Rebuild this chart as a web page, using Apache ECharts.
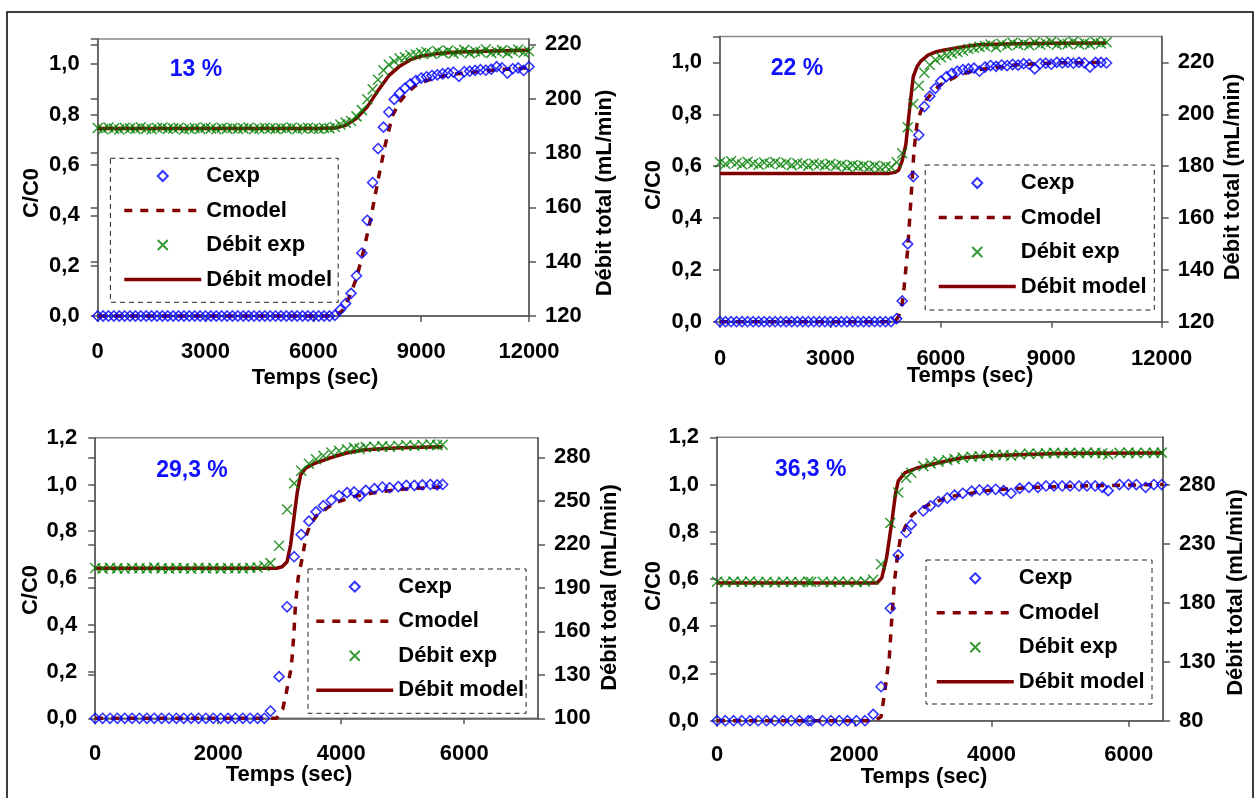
<!DOCTYPE html>
<html><head><meta charset="utf-8">
<script src="https://cdn.jsdelivr.net/npm/echarts@6/dist/echarts.min.js"></script>
<style>html,body{margin:0;padding:0;background:#fff}#c{width:1257px;height:798px}</style>
</head><body><div id="c"></div>
<script>
// ---------------- DATA ----------------
const seriesNames = ['Cexp', 'Cmodel', 'Débit exp', 'Débit model'];
const panelLabels = ['13 %', '22 %', '29,3 %', '36,3 %'];
const xTitle = 'Temps (sec)';
const yTitle = 'C/C0';
const rTitle = 'Débit total (mL/min)';

// Panel 1 (13 %)
const p1Time = [0,150,300,450,600,750,900,1050,1200,1350,1500,
  1650,1800,1950,2100,2250,2400,2550,2700,2850,3000,3150,
  3300,3450,3600,3750,3900,4050,4200,4350,4500,4650,4800,
  4950,5100,5250,5400,5550,5700,5850,6000,6150,6300,6450,
  6600,6750,6900,7050,7200,7350,7500,7650,7800,7950,8100,
  8250,8400,8550,8700,8850,9000,9150,9300,9450,9600,9750,
  9900,10050,10200,10350,10500,10650,10800,10950,11100,11250,11400,
  11550,11700,11850,12000];
const p1Cexp = [0,0,0,0,0,0,0,0,0,0,0,
  0,0,0,0,0,0,0,0,0,0,0,
  0,0,0,0,0,0,0,0,0,0,0,
  0,0,0,0,0,0,0,0,0,0,0,
  0.003,0.025,0.05,0.09,0.16,0.25,0.38,0.53,0.665,0.75,0.81,
  0.86,0.885,0.905,0.922,0.935,0.945,0.95,0.955,0.958,0.962,0.965,
  0.968,0.952,0.97,0.972,0.975,0.978,0.976,0.98,0.99,0.985,0.965,
  0.982,0.985,0.975,0.99];
const p1DebitExp = [189.2,188.8,189.4,189.0,188.7,189.3,189.1,188.9,189.5,189.0,188.8,
  189.2,189.4,188.9,189.1,189.3,188.7,189.0,189.2,188.9,189.4,189.1,
  188.8,189.3,189.0,189.2,188.9,189.1,189.4,188.8,189.0,189.3,189.1,
  188.9,189.2,189.0,189.4,188.8,189.1,189.3,189.0,188.9,189.2,189.1,
  189.6,190.5,191.2,191.8,193.5,195.8,199.8,203.5,207.0,210.5,212.5,
  213.8,214.8,215.3,216.0,216.3,216.8,217.2,216.5,217.6,216.9,217.8,
  216.7,217.3,218.0,216.8,217.5,217.1,218.2,216.9,217.4,217.9,216.8,
  217.6,218.1,217.0,217.5];
const p1CmodelTime = [0,6600,6800,7000,7200,7400,7600,7800,8000,8200,8400,8600,8800,9000,9500,10000,11000,12000];
const p1Cmodel = [0,0,0.02,0.075,0.15,0.26,0.39,0.54,0.68,0.795,0.85,0.885,0.91,0.928,0.95,0.962,0.976,0.986];
const p1DebitModelTime = [0,6000,6600,6900,7200,7500,7800,8100,8400,8700,9000,9500,10000,11000,12000];
const p1DebitModel = [189,189,189.2,190.2,192.8,197,203,208.5,212,214.4,215.7,216.7,217.2,217.6,217.9];

// Panel 2 (22 %)
const p2Time = [0,150,300,450,600,750,900,1050,1200,1350,1500,
  1650,1800,1950,2100,2250,2400,2550,2700,2850,3000,3150,
  3300,3450,3600,3750,3900,4050,4200,4350,4500,4650,4800,
  4950,5100,5250,5400,5550,5700,5850,6000,6150,6300,6450,
  6600,6750,6900,7050,7200,7350,7500,7650,7800,7950,8100,
  8250,8400,8550,8700,8850,9000,9150,9300,9450,9600,9750,
  9900,10050,10200,10350,10500];
const p2Cexp = [0,0,0,0,0,0,0,0,0,0,0,
  0,0,0,0,0,0,0,0,0,0,0,
  0,0,0,0,0,0,0,0,0,0,0.012,
  0.08,0.3,0.56,0.72,0.83,0.87,0.9,0.928,0.945,0.958,0.966,
  0.972,0.975,0.978,0.966,0.982,0.988,0.985,0.99,0.988,0.992,0.99,
  0.995,0.993,0.975,0.995,0.997,0.993,1.0,0.998,1.0,0.997,1.0,
  0.998,0.982,1.0,1.0,0.998];
const p2DebitExp = [181.5,180.8,181.9,181.2,180.6,181.7,181.0,180.5,181.4,180.9,181.6,
  180.7,181.3,180.4,181.1,180.8,180.2,181.0,180.6,180.3,180.9,180.1,
  180.5,179.8,180.4,179.9,180.2,179.6,180.1,179.5,179.9,179.6,181.5,
  185.0,195.0,204.0,211.0,216.0,219.0,221.0,222.0,222.8,223.5,224.0,
  224.6,225.2,225.6,226.0,226.3,226.9,225.9,227.2,226.5,227.6,226.8,
  227.3,226.6,227.8,226.9,227.4,228.0,226.8,227.5,227.1,228.1,227.0,
  227.6,226.9,228.0,227.3,227.8];
const p2CmodelTime = [0,4750,4850,4950,5000,5100,5200,5270,5350,5450,5600,5800,6000,6500,7000,8000,9000,10500];
const p2Cmodel = [0,0,0.02,0.07,0.13,0.28,0.5,0.66,0.76,0.81,0.855,0.89,0.915,0.952,0.972,0.99,0.998,1.0];
const p2DebitModelTime = [0,4600,4750,4850,4950,5050,5150,5250,5350,5450,5650,5850,6100,6500,7000,8000,9000,10500];
const p2DebitModel = [177.2,177.2,177.6,178.4,182,188.5,202,214.5,218.3,220.4,222.8,224,224.8,225.8,226.8,227.2,227.4,227.5];

// Panel 3 (29,3 %)
const p3Time = [0,120,240,360,480,600,720,840,960,1080,1200,1320,
  1440,1560,1680,1800,1920,2040,2160,2280,2400,2520,2640,2750,
  2850,2990,3120,3235,3350,3475,3590,3710,3840,3965,4095,4210,
  4300,4400,4540,4670,4790,4930,5060,5190,5320,5450,5560,5650];
const p3Cexp = [0,0,0,0,0,0,0,0,0,0,0,0,
  0,0,0,0,0,0,0,0,0,0,0,0,
  0.031,0.178,0.477,0.691,0.786,0.843,0.883,0.909,0.933,0.952,0.965,0.968,
  0.95,0.975,0.982,0.989,0.986,0.991,0.996,0.996,0.998,1.0,0.998,1.0];
const p3DebitExp = [203.6,203.2,203.8,203.4,203.1,203.7,203.5,203.3,203.9,203.4,203.2,203.6,
  203.5,203.1,203.8,203.4,203.6,203.2,203.7,203.5,203.3,203.8,204.0,205.0,
  207.0,219.0,244.0,262.0,270.7,275.6,278.7,281.0,283.3,284.5,285.5,286.5,
  285.8,287.0,287.3,287.5,287.2,287.8,288.3,288.0,288.5,288.8,288.4,288.7];
const p3CmodelTime = [0,2950,3050,3100,3190,3230,3255,3300,3370,3430,3500,3610,3800,3940,4200,4600,5000,5650];
const p3Cmodel = [0,0,0.04,0.1,0.22,0.36,0.48,0.6,0.69,0.78,0.83,0.87,0.905,0.925,0.948,0.968,0.98,0.99];
const p3DebitModelTime = [0,2950,3040,3120,3177,3231,3286,3340,3420,3580,3800,4070,4350,4700,5100,5650];
const p3DebitModel = [203.5,203.5,204.5,208,219.5,238,256,267.8,272.4,276,279.3,282.8,285,286,286.8,287.3];

// Panel 4 (36,3 %)
const p4Time = [0,120,240,360,480,600,720,840,960,1080,1200,1330,1370,1540,1660,1780,1900,2030,2155,
  2275,2390,2525,2640,2755,2830,3005,3110,3225,3355,
  3460,3580,3710,3825,3945,4060,4175,4285,4410,4545,
  4675,4795,4910,5030,5145,5275,5390,5510,5615,5700,
  5865,5995,6110,6245,6365,6480];
const p4Cexp = [0,0,0,0,0,0,0,0,0,0,0,0,0,0,0,0,0,0,0,
  0.027,0.144,0.476,0.702,0.797,0.83,0.888,0.91,0.928,0.943,
  0.955,0.963,0.972,0.977,0.977,0.98,0.974,0.963,0.984,0.988,
  0.988,0.994,0.994,0.994,0.994,0.994,0.994,0.994,0.988,0.974,
  1.0,1.0,1.0,0.988,1.0,1.0];
const p4DebitExp = [197.6,197.2,197.8,197.4,197.9,197.3,197.6,197.1,197.7,197.5,197.3,197.8,197.4,197.6,197.2,197.9,197.5,197.3,197.8,
  199.4,212.5,247.5,273.3,285.7,289.9,295.6,297.8,299.4,300.8,
  301.6,302.8,303.5,304.0,304.5,305.2,305.0,304.3,305.5,306.2,
  306.0,306.5,306.8,306.5,306.8,306.6,307.0,306.8,306.5,305.5,
  306.8,307.0,306.6,306.9,306.8,307.0];
const p4CmodelTime = [0,2300,2390,2440,2510,2550,2585,2625,2670,2740,2840,2950,3130,3415,4000,4590,5470,6500];
const p4Cmodel = [0,0,0.017,0.116,0.27,0.45,0.59,0.69,0.77,0.82,0.87,0.895,0.921,0.95,0.977,0.988,0.995,1.0];
const p4DebitModelTime = [0,2330,2400,2470,2550,2600,2640,2740,2930,3230,3570,4000,4500,5000,5500,6500];
const p4DebitModel = [196.6,196.6,201,218,250,272,283,290,294.3,298.5,302.7,304.3,305.5,306.2,306.5,306.8];

// Axis ranges (tick values)
const xAxisMax = [12000, 12000, 7200, 6500];
const xAxisInterval = [3000, 3000, 2000, 2000];
const leftAxisMax = [1.1, 1.1, 1.2, 1.2];
const rightAxisMin = [120, 120, 100, 80];
const rightAxisMax = [222, 230, 293.5, 320];
const rightAxisInterval = [20, 20, 30, 50];

// ---------------- LAYOUT ----------------
const FONT = '"Liberation Sans", Arial, Helvetica, sans-serif';
const layout = [
  {grid:[97.7,39,431.3,277], xMargin:25, label:[196,70], yName:[31.5,193], rName:[605,193], xName:[315,378],
   box:[110.4,158.3,227.8,144], legend:[122.5,165]},
  {grid:[720,36.5,441.7,285.2], xMargin:26, label:[797,68.5], yName:[654,185], rName:[1233,177], xName:[970,376],
   box:[925.2,165,229.1,145], legend:[937,172]},
  {grid:[95.2,437.7,442.8,280.6], xMargin:24.5, label:[192,470.5], yName:[31,590], rName:[610,587.5], xName:[289,775],
   box:[308,569,218.1,144.3], legend:[314.5,575.7]},
  {grid:[717.1,437.3,446,283.4], xMargin:23.5, label:[810.7,470], yName:[654,586], rName:[1236,592.5], xName:[924,777],
   box:[926,560,226,144], legend:[935,567.3]}
];

const panelData = [
  [p1Time,p1Cexp,p1DebitExp,p1CmodelTime,p1Cmodel,p1DebitModelTime,p1DebitModel],
  [p2Time,p2Cexp,p2DebitExp,p2CmodelTime,p2Cmodel,p2DebitModelTime,p2DebitModel],
  [p3Time,p3Cexp,p3DebitExp,p3CmodelTime,p3Cmodel,p3DebitModelTime,p3DebitModel],
  [p4Time,p4Cexp,p4DebitExp,p4CmodelTime,p4Cmodel,p4DebitModelTime,p4DebitModel]
];

const zip = (ts, vs) => ts.map((t, i) => [t, vs[i]]);
const CROSS = 'path://M0,0L10,10M0,10L10,0';
const DIAMOND = 'path://M5,0L10,5L5,10L0,5Z';
const AXIS_COLOR = '#555';
const labelStyle = {fontSize:22, fontWeight:'bold', color:'#000', fontFamily:FONT};
const hiddenSym = {opacity:0, color:'rgba(0,0,0,0)', borderColor:'rgba(0,0,0,0)', borderWidth:0};

const grids = [], xAxes = [], yAxes = [], series = [], legends = [], graphics = [];

graphics.push({type:'rect', shape:{x:7, y:12, width:1246, height:790},
  style:{fill:'transparent', stroke:'#000', lineWidth:1.5}, silent:true});

layout.forEach((L, p) => {
  const [t, cexp, dexp, cmT, cm, dmT, dm] = panelData[p];
  grids.push({left:L.grid[0], top:L.grid[1], width:L.grid[2], height:L.grid[3],
    show:true, borderColor:'#8a8a8a', borderWidth:1.5, backgroundColor:'transparent',
    containLabel:false, outerBoundsMode:'none'});
  xAxes.push({type:'value', gridIndex:p, min:0, max:xAxisMax[p], interval:xAxisInterval[p],
    axisLine:{show:true, onZero:false, lineStyle:{color:AXIS_COLOR, width:1.5}},
    axisTick:{show:true, inside:false, length:6, lineStyle:{color:AXIS_COLOR, width:1.5}},
    splitLine:{show:false},
    axisLabel:Object.assign({margin:L.xMargin, showMaxLabel: xAxisMax[p] % xAxisInterval[p] === 0,
      formatter: v => String(Math.round(v))}, labelStyle)});
  yAxes.push({type:'value', gridIndex:p, position:'left', min:0, max:leftAxisMax[p], interval:0.2,
    axisLine:{show:true, onZero:false, lineStyle:{color:AXIS_COLOR, width:1.5}},
    axisTick:{show:true, inside:false, length:7, lineStyle:{color:AXIS_COLOR, width:1.5}},
    splitLine:{show:false},
    axisLabel:Object.assign({margin:18, showMaxLabel: leftAxisMax[p] === 1.2,
      formatter: v => v.toFixed(1).replace('.', ',')}, labelStyle)});
  yAxes.push({type:'value', gridIndex:p, position:'right', min:rightAxisMin[p], max:rightAxisMax[p], interval:rightAxisInterval[p],
    axisLine:{show:true, onZero:false, lineStyle:{color:AXIS_COLOR, width:1.5}},
    axisTick:{show:true, inside:false, length:7, lineStyle:{color:AXIS_COLOR, width:1.5}},
    splitLine:{show:false},
    axisLabel:Object.assign({margin:16, showMaxLabel:false,
      formatter: v => String(Math.round(v))}, labelStyle)});
  yAxes.push({type:'value', gridIndex:p, position:'right', min:rightAxisMin[p], max:rightAxisMax[p], interval:rightAxisInterval[p],
    axisLine:{show:false}, axisLabel:{show:false}, splitLine:{show:false},
    axisTick:{show:true, inside:true, length:7, lineStyle:{color:AXIS_COLOR, width:1.5}}});

  series.push({type:'line', name:seriesNames[1], xAxisIndex:p, yAxisIndex:3*p, data:zip(cmT, cm),
    symbol:'none', clip:false, z:2,
    lineStyle:{color:'#800000', width:3.5, type:[8,8]}, itemStyle:{color:'#800000'}});
  series.push({type:'line', name:seriesNames[3], xAxisIndex:p, yAxisIndex:3*p+1, data:zip(dmT, dm),
    symbol:'none', clip:false, z:2,
    lineStyle:{color:'#800000', width:3.5, type:'solid'}, itemStyle:{color:'#800000'}});
  series.push({type:'scatter', name:seriesNames[0], xAxisIndex:p, yAxisIndex:3*p, data:zip(t, cexp),
    symbol:DIAMOND, symbolSize:10, clip:false, z:4,
    itemStyle:{color:'rgba(0,0,0,0)', borderColor:'#0000FF', borderWidth:1.6}});
  series.push({type:'scatter', name:seriesNames[2], xAxisIndex:p, yAxisIndex:3*p+1, data:zip(t, dexp),
    symbol:CROSS, symbolSize:10, clip:false, z:3,
    itemStyle:{color:'rgba(0,0,0,0)', borderColor:'#008000', borderWidth:1.5}});

  legends.push({orient:'vertical', left:L.legend[0], top:L.legend[1], padding:0,
    itemWidth:77, itemHeight:10, itemGap:12.5, selectedMode:false, symbolKeepAspect:true,
    lineStyle:{width:3.5},
    textStyle:{fontSize:22, fontWeight:'bold', color:'#000', fontFamily:FONT, lineHeight:22},
    data:[
      {name:seriesNames[0], icon:DIAMOND},
      {name:seriesNames[1], itemStyle:hiddenSym},
      {name:seriesNames[2], icon:CROSS},
      {name:seriesNames[3], itemStyle:hiddenSym}
    ]});

  graphics.push({type:'rect', shape:{x:L.box[0], y:L.box[1], width:L.box[2], height:L.box[3]},
    style:{fill:'transparent', stroke:'#222', lineWidth:1, lineDash:[5,4]}, silent:true, z:1});
  graphics.push({type:'text', x:L.label[0], y:L.label[1], silent:true,
    style:{text:panelLabels[p], fill:'#1010FF', font:'bold 23px ' + FONT,
      align:'center', verticalAlign:'middle', textAlign:'center', textVerticalAlign:'middle'}});
  graphics.push({type:'text', x:L.xName[0], y:L.xName[1], silent:true,
    style:{text:xTitle, fill:'#000', font:'bold 22px ' + FONT,
      align:'center', verticalAlign:'middle', textAlign:'center', textVerticalAlign:'middle'}});
  graphics.push({type:'text', x:L.yName[0], y:L.yName[1], rotation:Math.PI/2, silent:true,
    style:{text:yTitle, fill:'#000', font:'bold 22px ' + FONT,
      align:'center', verticalAlign:'middle', textAlign:'center', textVerticalAlign:'middle'}});
  graphics.push({type:'text', x:L.rName[0], y:L.rName[1], rotation:Math.PI/2, silent:true,
    style:{text:rTitle, fill:'#000', font:'bold 22px ' + FONT,
      align:'center', verticalAlign:'middle', textAlign:'center', textVerticalAlign:'middle'}});
});

const chart = echarts.init(document.getElementById('c'), null, {renderer:'canvas'});
chart.setOption({
  animation:false,
  backgroundColor:'#fff',
  grid:grids, xAxis:xAxes, yAxis:yAxes, series:series, legend:legends,
  graphic:graphics
});
</script></body></html>
